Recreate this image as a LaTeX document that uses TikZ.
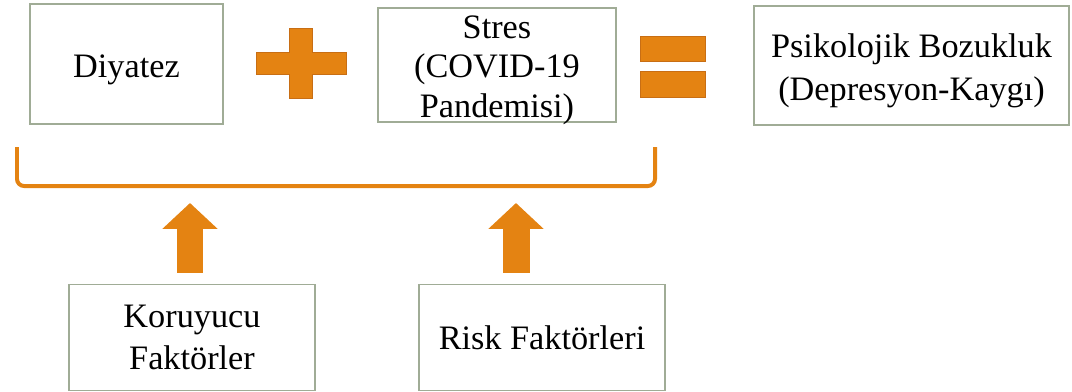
\documentclass[tikz,border=0pt]{standalone}
\usepackage{fontspec}
\setmainfont{Liberation Serif}
\usepackage{tikz}
\usetikzlibrary{arrows.meta, positioning, calc}
\definecolor{blockorange}{RGB}{228, 131, 18}
\definecolor{edgeorange}{RGB}{200, 110, 20}
\definecolor{boxgray}{RGB}{160, 172, 150}
\tikzset{
  factorbox/.style={draw=boxgray, line width=0.7pt, fill=white, align=center,
    inner sep=0pt, font=\fontsize{19.5}{24}\selectfont},
  boxtext/.style={align=center, inner sep=0pt, font=\fontsize{19.5}{#1}\selectfont},
  boxtext/.default=23,
  blockarrow/.style={blockorange, line width=0.54cm,
    -{Triangle[length=0.52cm, width=1.08cm]}},
  blockshape/.style={fill=blockorange, draw=edgeorange, line width=0.3pt}
}

\begin{document}
\begin{tikzpicture}[x=0.02cm, y=-0.02cm]
    \useasboundingbox (0,0) rectangle (1072,392);
    % Top row
    \node[factorbox, minimum width=3.86cm, minimum height=2.4cm,
      label={[boxtext, yshift=-0.12cm]center:Diyatez}] (diyatez) at (126.5,64) {};
    \node[factorbox, minimum width=4.76cm, minimum height=2.28cm,
      label={[boxtext=22.5, yshift=-0.1cm]center:{Stres\\(COVID-19\\Pandemisi)}}] (stres) at (497,65) {};
    \node[factorbox, minimum width=6.3cm, minimum height=2.38cm,
      label={[boxtext=24.5, yshift=-0.1cm]center:{Psikolojik Bozukluk\\(Depresyon-Kaygı)}}] (bozukluk) at (911.5,65.5) {};
    % Plus sign
    \fill[blockshape] (289,28) -- (312,28) -- (312,52) -- (346,52) -- (346,74) -- (312,74)
      -- (312,98) -- (289,98) -- (289,74) -- (256,74) -- (256,52) -- (289,52) -- cycle;
    % Equals sign
    \fill[blockshape] (640,36) rectangle (705,61);
    \fill[blockshape] (640,71) rectangle (705,97);
    % Bracket
    \draw[blockorange, line width=0.08cm, rounded corners=4]
      (17,147) -- (17,186) -- (655,186) -- (655,147);
    % Bottom row
    \node[factorbox, minimum width=4.92cm, minimum height=2.13cm] (koruyucu) at (192,337.5) {Koruyucu\\Faktörler};
    \node[factorbox, minimum width=4.92cm, minimum height=2.13cm] (risk) at (542,337.5) {Risk Faktörleri};
    % Arrows
    \coordinate (kortop) at (190,203);
    \coordinate (risktop) at (516,203);
    \draw[blockarrow] (koruyucu.north -| kortop) ++(0,-11) -- (kortop);
    \draw[blockarrow] (risk.north -| risktop) ++(0,-11) -- (risktop);
\end{tikzpicture}
\end{document}
